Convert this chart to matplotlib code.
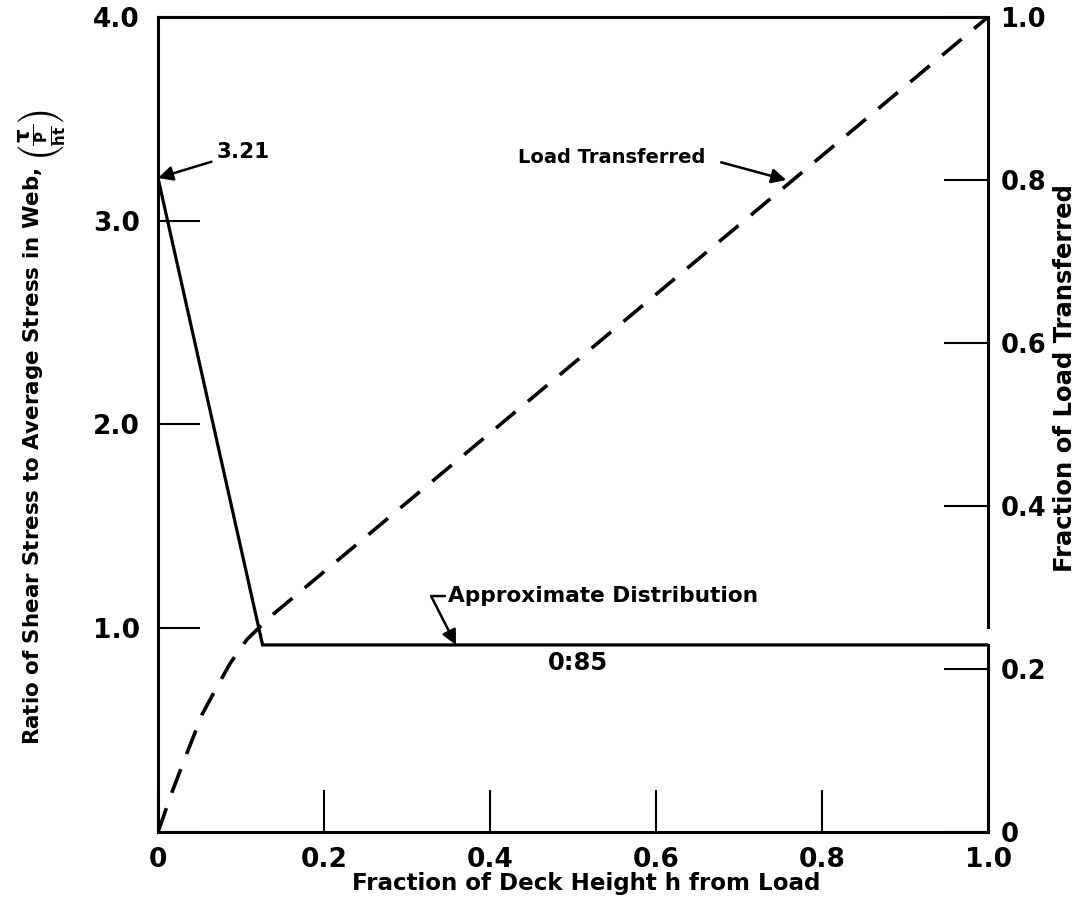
import numpy as np
import matplotlib
matplotlib.use("Agg")
import matplotlib.pyplot as plt

plt.rcParams['font.family'] = ['DejaVu Sans']
plt.rcParams['font.weight'] = 'bold'
plt.rcParams['axes.labelweight'] = 'bold'
plt.rcParams['mathtext.fontset'] = 'dejavusans'
plt.rcParams['mathtext.default'] = 'bf'

# solid line: ratio of shear stress (left axis)
x_stress = [0.0, 0.126, 1.0]
y_stress = [3.21, 0.918, 0.918]

# dashed line: fraction of load transferred (right axis)
x_load = [0.0, 0.018, 0.035, 0.053, 0.071, 0.087, 0.107, 0.135, 1.0]
y_load = [0.0, 0.052, 0.097, 0.144, 0.178, 0.207, 0.236, 0.264, 1.0]

xticks = [0, 0.2, 0.4, 0.6, 0.8, 1.0]
xticklabels = ['0', '0.2', '0.4', '0.6', '0.8', '1.0']
yticks_left = [0, 1, 2, 3, 4]
yticklabels_left = ['', '1.0', '2.0', '3.0', '4.0']
yticks_right = [0, 0.2, 0.4, 0.6, 0.8, 1.0]
yticklabels_right = ['0', '0.2', '0.4', '0.6', '0.8', '1.0']

fig = plt.figure(figsize=(10.77, 8.98), dpi=100)
ax = fig.add_axes([0.1467, 0.0735, 0.7707, 0.9076])
ax2 = ax.twinx()

ax.plot(x_stress, y_stress, color='black', lw=2.3, solid_joinstyle='miter')
ax2.plot(x_load, y_load, color='black', lw=2.6, dashes=(7, 4.5))

ax.set_xlim(0, 1)
ax.set_ylim(0, 4)
ax2.set_ylim(0, 1)

ax.set_xticks(xticks)
ax.set_xticklabels(xticklabels)
ax.set_yticks(yticks_left)
ax.set_yticklabels(yticklabels_left)
ax2.set_yticks(yticks_right)
ax2.set_yticklabels(yticklabels_right)

ax.tick_params(axis='x', direction='in', length=30, width=1.5, pad=11, labelsize=19)
ax.tick_params(axis='y', direction='in', length=30, width=1.5, pad=13, labelsize=19)
ax2.tick_params(axis='y', direction='in', length=32, width=1.5, pad=9, labelsize=18.5)

for s in ['left', 'bottom', 'top']:
    ax.spines[s].set_linewidth(2.2)
ax.spines['right'].set_visible(False)
for s in ['left', 'bottom', 'top']:
    ax2.spines[s].set_visible(False)
ax2.spines['right'].set_linewidth(2.2)
ax2.spines['right'].set_bounds(0, 0.2295)
ax2.axvline(1.0, ymin=0.2515, ymax=1.0, color='black', lw=2.2, clip_on=False)

ax.set_xlabel('Fraction of Deck Height h from Load', fontsize=16.6)
ax.xaxis.set_label_coords(0.516, -0.049)
ax.set_ylabel(r'Ratio of Shear Stress to Average Stress in Web, $\left(\dfrac{\tau}{\frac{P}{ht}}\right)$',
              fontsize=15.4)
ax.yaxis.set_label_coords(-0.109, 0.497)
ax2.set_ylabel('Fraction of Load Transferred', fontsize=17.5)
ax2.yaxis.set_label_coords(1.078, 0.557)

# annotations
ax.annotate('3.21', xy=(0.0, 3.21), xytext=(0.071, 3.337), fontsize=15.5,
            va='center', ha='left',
            arrowprops=dict(arrowstyle='-|>', color='black', lw=1.8,
                            mutation_scale=22, shrinkA=2, shrinkB=0))
ax2.annotate('Load Transferred', xy=(0.757, 0.80), xytext=(0.659, 0.827), fontsize=14,
             va='center', ha='right',
             arrowprops=dict(arrowstyle='-|>', color='black', lw=1.8,
                             mutation_scale=22, shrinkA=10, shrinkB=0, relpos=(1, 0.5)))
ax.annotate('Approximate Distribution', xy=(0.359, 0.918), xytext=(0.349, 1.158), fontsize=15.6,
            va='center', ha='left',
            arrowprops=dict(arrowstyle='-|>', color='black', lw=1.8,
                            mutation_scale=22, shrinkA=0, shrinkB=0, relpos=(0, 0.5),
                            connectionstyle='angle,angleA=180,angleB=117,rad=0'))
ax.text(0.506, 0.83, '0:85', fontsize=17.5, ha='center', va='center')

fig.savefig('out.png', dpi=100)
